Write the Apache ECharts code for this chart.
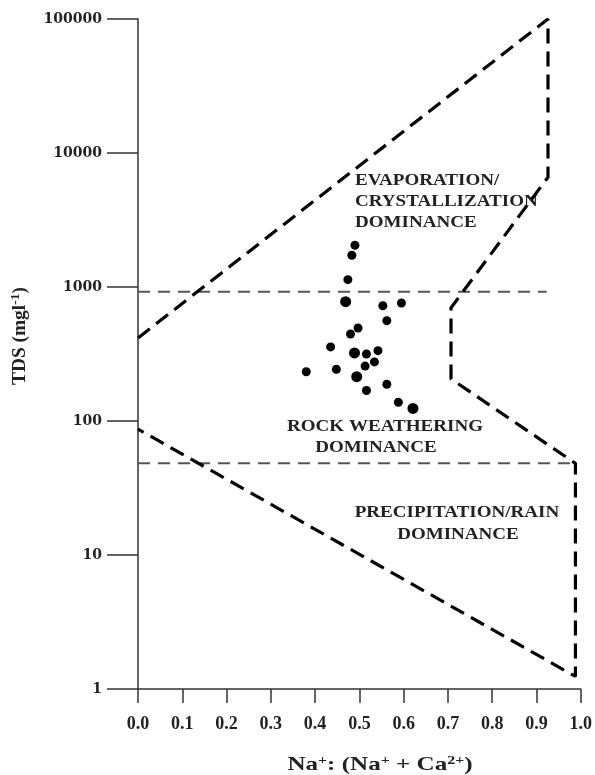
<!DOCTYPE html>
<html>
<head>
<meta charset="utf-8">
<script src="https://cdn.jsdelivr.net/npm/echarts@6/dist/echarts.min.js"></script>
<style>
html,body{margin:0;padding:0;background:#fff;}
#chart{width:595px;height:775px;}
</style>
</head>
<body>
<div id="chart"></div>
<script>
// Sample points (Na/(Na+Ca), TDS mg/l)
var pointsX = [0.490, 0.483, 0.474, 0.553, 0.595, 0.562, 0.497, 0.480, 0.435, 0.516, 0.542, 0.534, 0.513, 0.380, 0.448, 0.562, 0.516, 0.588];
var pointsY = [2050, 1725, 1134, 725, 760, 561, 494, 446, 357, 316, 335, 276, 257, 233, 243, 188, 169, 138];
var largeX = [0.469, 0.489, 0.494, 0.621];
var largeY = [777, 322, 214, 124];

// Gibbs boundary polyline
var boundaryX = [0.0, 0.926, 0.926, 0.707, 0.707, 0.988, 0.988, 0.0];
var boundaryY = [417, 100000, 6600, 700, 206, 48.3, 1.24, 87];

// Horizontal divider lines
var upperDividerX = [0.0, 0.923];
var upperDividerY = [923, 923];
var lowerDividerX = [0.0, 0.988];
var lowerDividerY = [48.3, 48.3];

var yTicks = [1, 10, 100, 1000, 10000, 100000];

function zip(xs, ys){ return xs.map(function(x,i){ return [x, ys[i]]; }); }

var serif = 'Liberation Serif, Times New Roman, serif';
var sx = 1.12;
var chart = echarts.init(document.getElementById('chart'), null, {renderer:'canvas'});
chart.setOption({
  animation:false,
  backgroundColor:'#fff',
  grid:{left:138, right:13, top:19, bottom:86},
  xAxis:{
    type:'value', min:0, max:1, interval:0.1,
    axisLine:{show:true, lineStyle:{color:'#333', width:1.5}},
    axisTick:{show:true, length:14, lineStyle:{color:'#333', width:1.5}},
    axisLabel:{fontFamily:serif, fontWeight:'bold', fontSize:18, color:'#222', margin:26,
      formatter:function(v){ return v.toFixed(1); }},
    splitLine:{show:false}
  },
  yAxis:{
    type:'log', logBase:10, min:yTicks[0], max:yTicks[yTicks.length-1], interval:1,
    axisLine:{show:true, lineStyle:{color:'#333', width:1.5}},
    axisTick:{show:true, length:31, lineStyle:{color:'#333', width:1.5}},
    axisLabel:{fontFamily:'DejaVu Serif', fontWeight:'bold', fontSize:14, color:'#222', margin:36,
      formatter:function(v){ return String(Math.round(v)); }},
    splitLine:{show:false}, minorTick:{show:false}
  },
  graphic:[
    {type:'text', x:380, y:765, scaleX:1.32,
      style:{text:'{n|Na}{s|+}{n|: (Na}{s|+}{n| + Ca}{s|2+}{n|)}', textAlign:'center', textVerticalAlign:'middle',
        rich:{n:{font:'bold 19px '+serif, fill:'#222'}, s:{font:'bold 12px '+serif, fill:'#222', verticalAlign:'top', padding:[0,0,8,0]}}}},
    {type:'text', x:20, y:336, rotation:Math.PI/2, scaleX:1.14, scaleY:1.1,
      style:{text:'{n|TDS (mgl}{s|-1}{n|)}', textAlign:'center', textVerticalAlign:'middle',
        rich:{n:{font:'bold 17px '+serif, fill:'#222'}, s:{font:'bold 12px '+serif, fill:'#222', padding:[0,0,8,0]}}}},
    {type:'text', x:355, y:170, scaleX:sx, style:{text:'EVAPORATION/\nCRYSTALLIZATION\nDOMINANCE', font:'bold 17px '+serif, fill:'#222', textAlign:'left', lineHeight:21}},
    {type:'text', x:385, y:427, scaleX:sx, style:{text:'ROCK WEATHERING', font:'bold 17px '+serif, fill:'#222', textAlign:'center', textVerticalAlign:'middle'}},
    {type:'text', x:376, y:448, scaleX:sx, style:{text:'DOMINANCE', font:'bold 17px '+serif, fill:'#222', textAlign:'center', textVerticalAlign:'middle'}},
    {type:'text', x:457, y:513, scaleX:sx, style:{text:'PRECIPITATION/RAIN', font:'bold 17px '+serif, fill:'#222', textAlign:'center', textVerticalAlign:'middle'}},
    {type:'text', x:458, y:535, scaleX:sx, style:{text:'DOMINANCE', font:'bold 17px '+serif, fill:'#222', textAlign:'center', textVerticalAlign:'middle'}}
  ],
  series:[
    {type:'line', data:zip(upperDividerX, upperDividerY), symbol:'none', silent:true,
      lineStyle:{color:'#555', width:2, type:[12,8]}},
    {type:'line', data:zip(lowerDividerX, lowerDividerY), symbol:'none', silent:true,
      lineStyle:{color:'#555', width:2, type:[12,8]}},
    {type:'line', data:zip(boundaryX, boundaryY), symbol:'none', silent:true,
      lineStyle:{color:'#000', width:3.2, type:[15,8]}},
    {type:'scatter', data:zip(pointsX, pointsY), symbol:'circle', symbolSize:9,
      itemStyle:{color:'#000', opacity:1}},
    {type:'scatter', data:zip(largeX, largeY), symbol:'circle', symbolSize:11,
      itemStyle:{color:'#000', opacity:1}}
  ]
});
</script>
</body>
</html>
